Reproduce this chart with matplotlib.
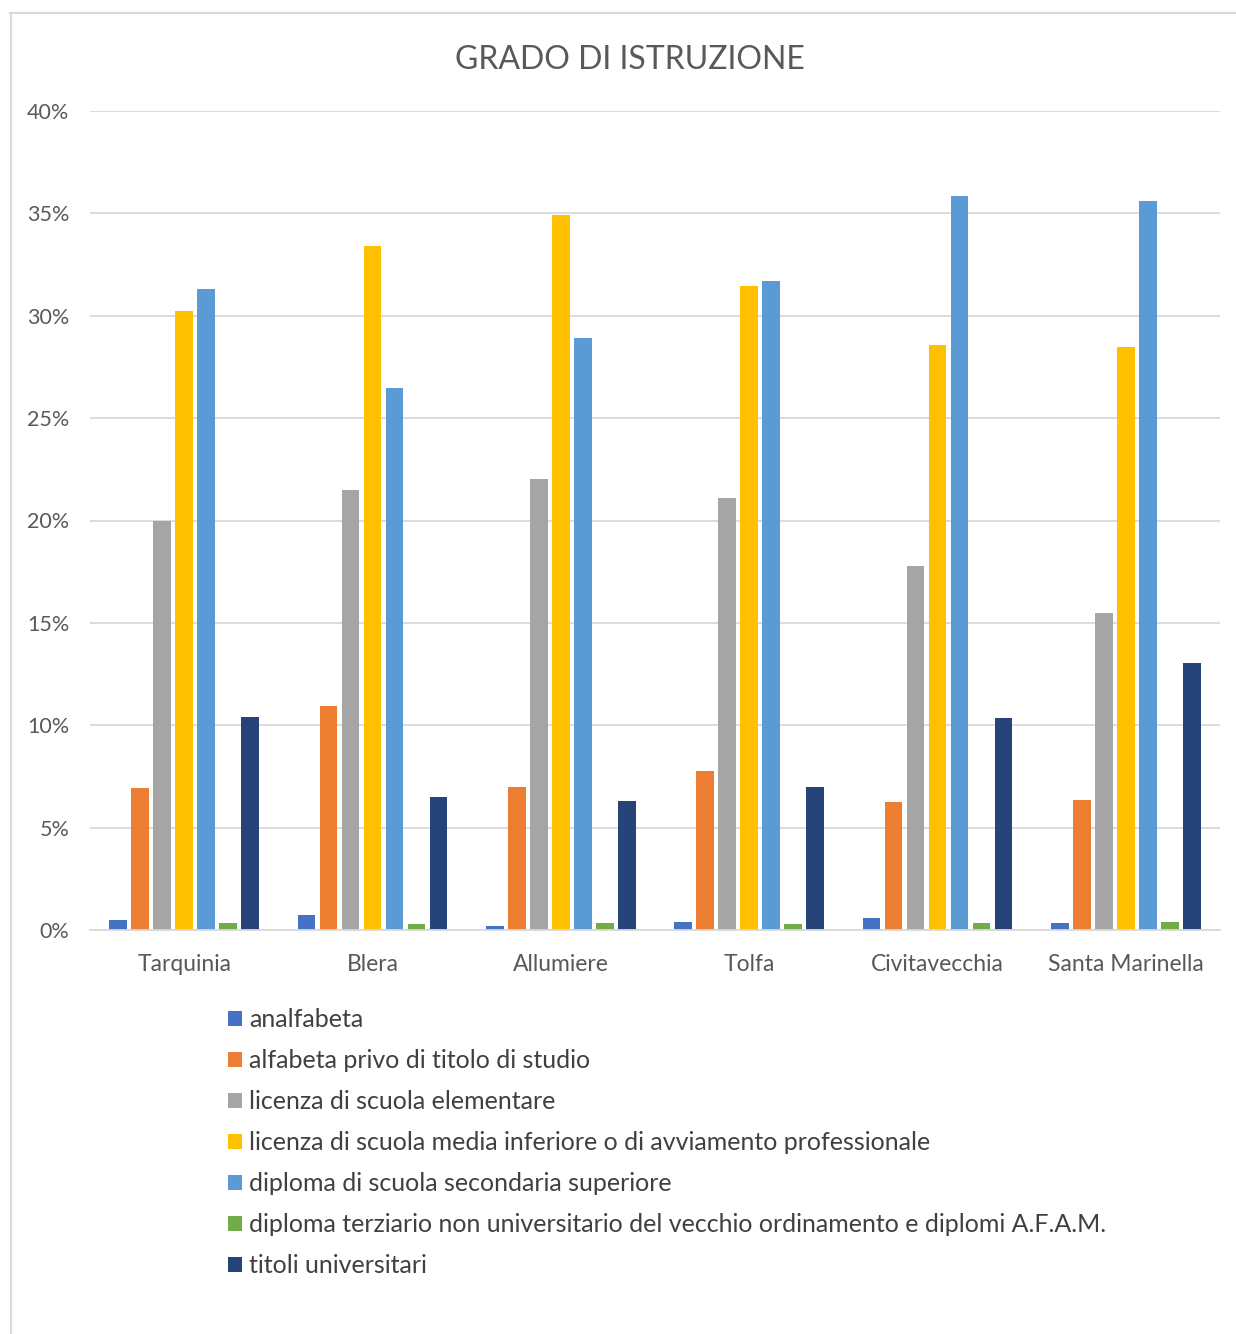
import matplotlib.pyplot as plt
import numpy as np
from matplotlib.patches import Patch
from matplotlib.lines import Line2D
from matplotlib.ticker import PercentFormatter

plt.rcParams['font.family'] = ['Lato', 'DejaVu Sans']

comuni = ["Tarquinia", "Blera", "Allumiere", "Tolfa", "Civitavecchia", "Santa Marinella"]
livelli = [
    "analfabeta",
    "alfabeta privo di titolo di studio",
    "licenza di scuola elementare",
    "licenza di scuola media inferiore o di avviamento professionale",
    "diploma di scuola secondaria superiore",
    "diploma terziario non universitario del vecchio ordinamento e diplomi A.F.A.M.",
    "titoli universitari",
]
colori = ["#4472C4", "#ED7D31", "#A5A5A5", "#FFC000", "#5B9BD5", "#70AD47", "#264478"]

# percentuali per livello (una lista per serie, un valore per comune)
analfabeta = [0.50, 0.73, 0.20, 0.40, 0.58, 0.34]
alfabeta = [6.93, 10.94, 7.00, 7.77, 6.25, 6.35]
elementare = [19.98, 21.5, 22.05, 21.1, 17.8, 15.5]
media = [30.25, 33.4, 34.9, 31.45, 28.55, 28.45]
superiore = [31.3, 26.45, 28.9, 31.7, 35.85, 35.6]
terziario = [0.34, 0.30, 0.34, 0.30, 0.34, 0.40]
universitari = [10.4, 6.5, 6.3, 7.0, 10.35, 13.05]
serie = [analfabeta, alfabeta, elementare, media, superiore, terziario, universitari]

W, H = 1236, 1334
fig = plt.figure(figsize=(W / 100, H / 100), dpi=100)
ax = fig.add_axes([90 / W, 1 - 930 / H, (1220 - 90) / W, (930 - 111) / H])

x = np.arange(len(comuni))
step = 0.117
bw = 0.094
for i, (vals, col) in enumerate(zip(serie, colori)):
    ax.bar(x + (i - 3) * step, np.array(vals) / 100, width=bw, color=col, zorder=3)

ax.set_xlim(-0.5, len(comuni) - 0.5)
ax.set_ylim(0, 0.40)
ax.set_yticks(np.arange(0, 0.41, 0.05))
ax.yaxis.set_major_formatter(PercentFormatter(1.0, decimals=0))
ax.set_xticks(x)
ax.set_xticklabels(comuni)
ax.grid(axis='y', color='#d9d9d9', lw=1.3, zorder=0)
for s in ['top', 'right', 'left']:
    ax.spines[s].set_visible(False)
ax.spines['bottom'].set_color('#d9d9d9')
ax.spines['bottom'].set_linewidth(1.3)
ax.spines['bottom'].set_zorder(4)
ax.tick_params(axis='both', length=0, colors='#595959')
ax.tick_params(axis='x', pad=17, labelsize=16.5)
ax.tick_params(axis='y', pad=15, labelsize=15.5)

fig.text(630 / W, 1 - 60 / H, "GRADO DI ISTRUZIONE", ha='center', va='center',
         fontsize=23, color='#595959')

handles = [Patch(facecolor=c, edgecolor='none') for c in colori]
fig.legend(handles, livelli, loc='upper left', bbox_to_anchor=(228 / W, 1 - 1008 / H),
           frameon=False, fontsize=18, handlelength=0.55, handleheight=0.55,
           handletextpad=0.3, labelspacing=0.72, borderpad=0, borderaxespad=0,
           labelcolor='#404040')

# cornice del grafico
fig.add_artist(Line2D([10.5 / W, 10.5 / W], [0, 1 - 13 / H], color='#d9d9d9', lw=1.5))
fig.add_artist(Line2D([10 / W, 1], [1 - 13 / H, 1 - 13 / H], color='#d9d9d9', lw=1.5))

fig.savefig("out.png", dpi=100, facecolor='white')
